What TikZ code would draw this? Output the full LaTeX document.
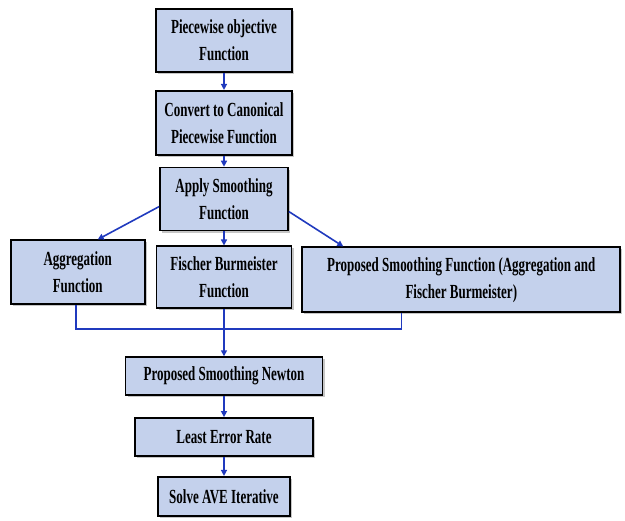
\documentclass[tikz,border=0pt]{standalone}
\usepackage{fontspec}
\setmainfont{Liberation Serif}[FakeStretch=0.65]
\usepackage{tikz}
\usetikzlibrary{arrows.meta,shadows}
\usetikzlibrary{positioning}
\definecolor{boxfill}{RGB}{196,209,236}
\definecolor{linkblue}{RGB}{32,58,190}
\tikzset{
    stage/.style={
      rectangle,
           draw=black, line width=1.8pt,
           fill=boxfill,
           inner sep=2pt,
           align=center,
           font=\fontsize{20}{27}\selectfont\bfseries,
           drop shadow={shadow xshift=2pt,shadow yshift=-2pt,fill=black!50,opacity=0.45},
           },
}
\tikzset{
    link/.style={
           draw=linkblue, line width=1.6pt,
           -{Triangle[length=6pt,width=6pt]},
           },
}
\tikzset{
    busline/.style={
           draw=linkblue, line width=1.6pt,
           },
}

\begin{document}
\begin{tikzpicture}

\useasboundingbox (0,0) rectangle (625pt,-521pt);

\node[stage,minimum width=136pt,minimum height=63pt] (pw) at (224pt,-40.5pt) {Piecewise objective\\Function};
\node[stage,minimum width=136pt,minimum height=64pt,below = 17pt of pw](cv){Convert to Canonical\\Piecewise Function};
\node[stage,minimum width=128pt,minimum height=63pt,below = 11pt of cv](sm){Apply Smoothing\\Function};

\path (pw) edge[link](cv);
\path (cv) edge[link](sm);

\node[stage,minimum width=135pt,minimum height=62pt,below = 14pt of sm](fb){Fischer Burmeister\\Function};
\node[stage,minimum width=134pt,minimum height=64pt,left = 10pt of fb,yshift=5pt](agg){Aggregation\\Function};
\node[stage,minimum width=318pt,minimum height=65pt,right = 9pt of fb,yshift=-2.5pt](psf){Proposed Smoothing Function (Aggregation and\\Fischer Burmeister)};

\path ([yshift=-7.5pt]sm.west) edge[link]([xshift=20pt]agg.north);
\path (sm) edge[link](fb);
\path ([yshift=-12.5pt]sm.east) edge[link]([xshift=-118pt]psf.north);

\node[stage,minimum width=197pt,minimum height=38pt,below = 47pt of fb](psn){Proposed Smoothing Newton};
\node[stage,minimum width=178pt,minimum height=38pt,below = 21pt of psn](ler){Least Error Rate};
\node[stage,minimum width=132pt,minimum height=39pt,below = 19pt of ler](ave){Solve AVE Iterative};

\coordinate[below = 20pt of fb.south] (bus);
\draw[busline] ([xshift=-2pt]agg.south) |- (bus) -| ([xshift=-60pt]psf.south);
\path (fb) edge[link](psn);

\path (psn) edge[link](ler);
\path (ler) edge[link](ave);

\end{tikzpicture}
\end{document}
